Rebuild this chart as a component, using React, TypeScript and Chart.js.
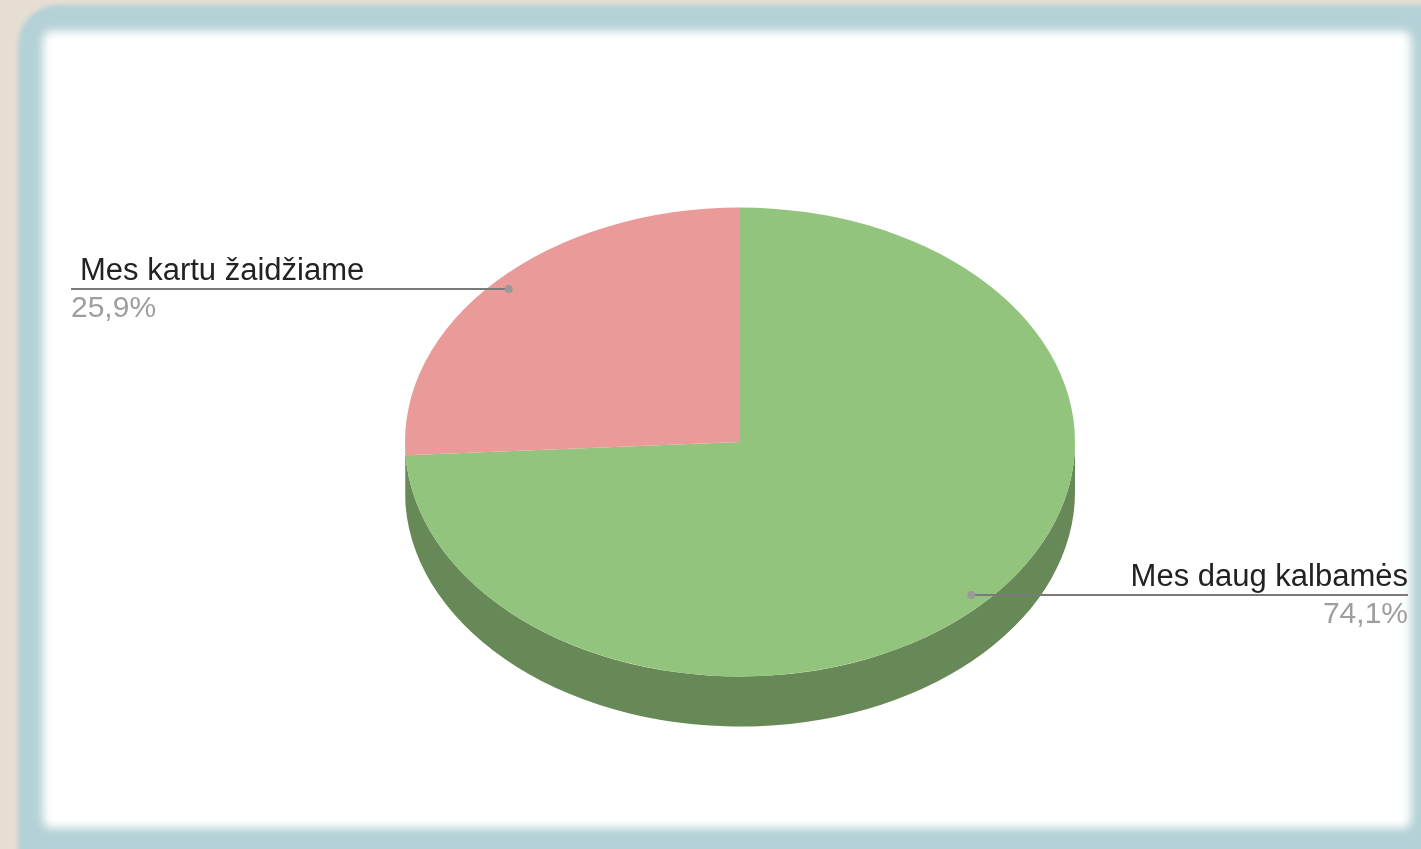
import React, { useEffect, useRef } from "react";
import { Chart, registerables } from "chart.js";

Chart.register(...registerables);

// ---- data ----
const categories = ["Mes daug kalbamės", "Mes kartu žaidžiame"];
const values = [74.1, 25.9];
const percentLabels = ["74,1%", "25,9%"];
const topColors = ["#93c47d", "#e99a99"];
const sideColors = ["#678957", "#a66c6c"];

const W = 1421;
const H = 849;
const FLATTEN = 0.7; // vertical squash of the pie (ry / rx)
const DEPTH = 50; // thickness of the 3D side
const FONT = '"Liberation Sans", Arial, Helvetica, sans-serif';

const pie3d = {
  id: "pie3d",
  beforeDatasetsDraw(chart: any) {
    const meta = chart.getDatasetMeta(0);
    const ctx = chart.ctx as CanvasRenderingContext2D;
    const el0: any = meta.data[0];
    const cx = el0.x;
    const cy = el0.y;
    const rx = el0.outerRadius;
    const ry = rx * FLATTEN;
    ctx.save();
    meta.data.forEach((el: any, i: number) => {
      const a = Math.max(el.startAngle, 0);
      const b = Math.min(el.endAngle, Math.PI);
      if (b <= a) return;
      ctx.beginPath();
      ctx.ellipse(cx, cy, rx, ry, 0, a, b, false);
      ctx.ellipse(cx, cy + DEPTH, rx, ry, 0, b, a, true);
      ctx.closePath();
      ctx.fillStyle = sideColors[i];
      ctx.fill();
    });
    ctx.restore();
    ctx.save();
    ctx.translate(cx, cy);
    ctx.scale(1, FLATTEN);
    ctx.translate(-cx, -cy);
  },
  afterDatasetsDraw(chart: any) {
    const ctx = chart.ctx as CanvasRenderingContext2D;
    ctx.restore();
    const meta = chart.getDatasetMeta(0);
    ctx.save();
    meta.data.forEach((el: any, i: number) => {
      const mid = (el.startAngle + el.endAngle) / 2;
      const rx = el.outerRadius;
      const ry = rx * FLATTEN;
      const px = el.x + Math.cos(mid) * rx * 0.95;
      const py = el.y + Math.sin(mid) * ry * 0.95;
      const left = Math.cos(mid) < 0;
      const endX = left ? 71 : 1408;
      ctx.strokeStyle = "#7a7a7a";
      ctx.lineWidth = 2;
      ctx.beginPath();
      ctx.moveTo(px, py);
      ctx.lineTo(endX, py);
      ctx.stroke();
      ctx.fillStyle = "#9a9a9a";
      ctx.beginPath();
      ctx.arc(px, py, 4, 0, Math.PI * 2);
      ctx.fill();
      ctx.textBaseline = "alphabetic";
      ctx.textAlign = left ? "left" : "right";
      ctx.font = `31px ${FONT}`;
      ctx.fillStyle = "#222222";
      ctx.fillText(categories[i], left ? endX + 9 : endX, py - 9);
      ctx.font = `30px ${FONT}`;
      ctx.fillStyle = "#9e9e9e";
      ctx.fillText(percentLabels[i], endX, py + 28);
    });
    ctx.restore();
  },
};

export default function App() {
  const ref = useRef<HTMLCanvasElement>(null);
  useEffect(() => {
    if (!ref.current) return;
    const chart = new Chart(ref.current, {
      type: "pie",
      data: {
        labels: categories,
        datasets: [
          {
            data: values,
            backgroundColor: topColors,
            borderWidth: 0,
            clip: false as any,
          },
        ],
      },
      options: {
        responsive: false,
        animation: false,
        events: [],
        layout: { padding: { left: 405, right: 346, top: 107, bottom: 72 } },
        plugins: {
          legend: { display: false },
          tooltip: { enabled: false },
          title: { display: false },
        },
      },
      plugins: [pie3d],
    });
    return () => chart.destroy();
  }, []);

  return (
    <div
      style={{
        position: "fixed",
        left: 0,
        top: 0,
        width: W,
        height: H,
        overflow: "hidden",
        background: "#e6ded3",
      }}
    >
      <div
        style={{
          position: "absolute",
          left: 18,
          top: 5,
          width: 1460,
          height: 900,
          borderRadius: 40,
          background: "#b3d1d6",
          filter: "blur(2px)",
        }}
      />
      <div
        style={{
          position: "absolute",
          left: 43,
          top: 31,
          width: 1368,
          height: 797,
          borderRadius: 8,
          background: "#ffffff",
          filter: "blur(5px)",
        }}
      />
      <canvas
        ref={ref}
        width={W}
        height={H}
        style={{ position: "absolute", left: 0, top: 0, width: W, height: H }}
      />
    </div>
  );
}
